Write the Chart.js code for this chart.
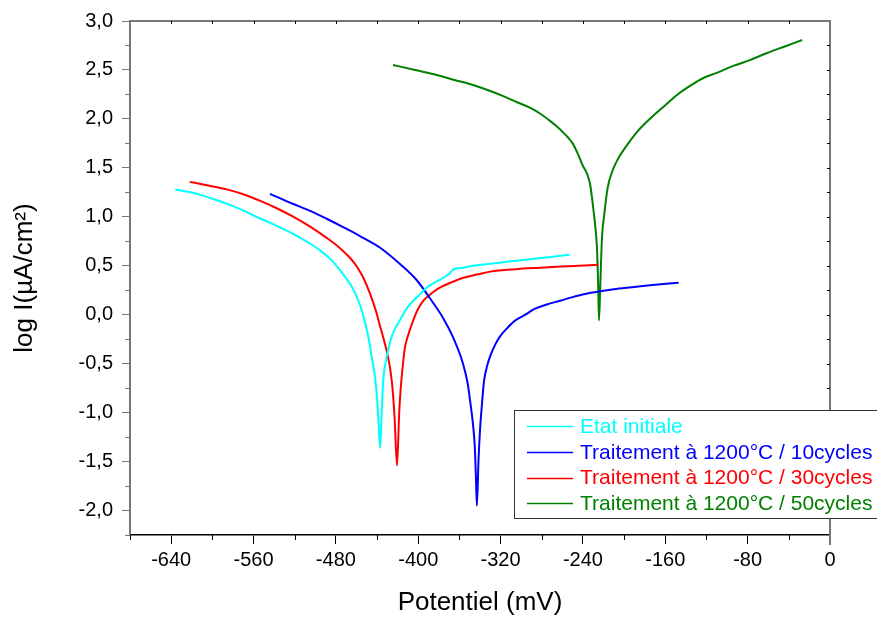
<!DOCTYPE html>
<html>
<head>
<meta charset="utf-8">
<script src="https://cdn.jsdelivr.net/npm/chart.js@4/dist/chart.umd.min.js"></script>
<style>
  html, body { margin: 0; padding: 0; background: #fff; }
  canvas { display: block; }
</style>
</head>
<body>
<canvas id="tafel" width="877" height="618"></canvas>
<script>
// Tafel polarisation curves: log of current density vs potential
const potentialTicks = [-640, -560, -480, -400, -320, -240, -160, -80, 0];
const currentTicks = [-2.0, -1.5, -1.0, -0.5, 0.0, 0.5, 1.0, 1.5, 2.0, 2.5, 3.0];

const seriesLabels = [
  'Etat initiale',
  'Traitement à 1200°C / 10cycles',
  'Traitement à 1200°C / 30cycles',
  'Traitement à 1200°C / 50cycles'
];
const seriesColors = ['#00ffff', '#0000ff', '#ff0000', '#008000'];

// Etat initiale
const initialX = [-636, -619, -600, -586, -570, -554, -538, -522, -508, -495, -485, -476, -470, -464, -459, -454, -449, -445, -442, -440, -438.5, -437, -435.5, -434, -431, -427, -423, -418, -412, -405, -398, -392, -382, -372, -368, -366, -356, -347, -330, -310, -291, -272, -253];
const initialY = [1.28, 1.245, 1.185, 1.135, 1.065, 0.985, 0.91, 0.828, 0.745, 0.655, 0.565, 0.455, 0.372, 0.276, 0.165, 0.015, -0.2, -0.44, -0.64, -0.85, -1.1, -1.36, -1.0, -0.67, -0.45, -0.265, -0.15, -0.06, 0.05, 0.143, 0.21, 0.276, 0.34, 0.40, 0.44, 0.46, 0.48, 0.50, 0.52, 0.545, 0.566, 0.59, 0.612];

// 10 cycles
const cycles10X = [-544, -522, -505, -489, -473, -457, -437, -418, -401, -389, -376, -366, -356.5, -352, -350, -347, -345, -344, -343, -341.5, -340, -338, -336, -333, -330, -325, -320, -313, -306, -296, -287, -275, -262, -250, -238, -223, -210, -197, -175, -147];
const cycles10Y = [1.235, 1.133, 1.06, 0.98, 0.895, 0.806, 0.684, 0.52, 0.347, 0.173, -0.03, -0.235, -0.5, -0.7, -0.85, -1.1, -1.36, -1.65, -1.95, -1.5, -1.18, -0.9, -0.67, -0.52, -0.42, -0.3, -0.214, -0.13, -0.06, 0.0, 0.06, 0.105, 0.143, 0.18, 0.212, 0.24, 0.26, 0.276, 0.3, 0.327];

// 30 cycles
const cycles30X = [-622, -604, -586, -570, -554, -538, -522, -505, -489, -476, -468, -463, -458, -453, -447, -443, -440, -437, -433, -430, -427, -425, -423, -420.6, -418.5, -417, -415, -413, -409.5, -406, -401, -395, -387, -379, -368, -356, -343, -330, -306, -282, -254, -225];
const cycles30Y = [1.357, 1.32, 1.28, 1.23, 1.165, 1.09, 1.005, 0.90, 0.785, 0.68, 0.6, 0.54, 0.465, 0.37, 0.22, 0.1, 0.0, -0.12, -0.27, -0.4, -0.57, -0.75, -1.05, -1.54, -1.0, -0.75, -0.52, -0.34, -0.2, -0.09, 0.04, 0.143, 0.22, 0.276, 0.33, 0.378, 0.41, 0.44, 0.465, 0.48, 0.495, 0.51];

// 50 cycles
const cycles50X = [-424.5, -403, -382, -366, -350, -334, -318, -304, -291, -281, -272, -265, -259, -255, -250, -245, -240, -236, -233, -231.5, -230, -228, -226.4, -225.2, -224.4, -223, -221.5, -219, -216, -212, -207, -197, -188, -180, -172, -160, -148, -136, -123, -110, -94, -78, -61, -44, -27];
const cycles50Y = [2.551, 2.50, 2.449, 2.40, 2.357, 2.30, 2.235, 2.17, 2.112, 2.05, 1.98, 1.92, 1.86, 1.815, 1.75, 1.645, 1.52, 1.44, 1.33, 1.22, 1.09, 0.9, 0.684, 0.3, -0.06, 0.35, 0.786, 1.05, 1.296, 1.45, 1.571, 1.735, 1.86, 1.95, 2.03, 2.14, 2.25, 2.337, 2.418, 2.47, 2.541, 2.6, 2.673, 2.74, 2.806];

const seriesX = [initialX, cycles10X, cycles30X, cycles50X];
const seriesY = [initialY, cycles10Y, cycles30Y, cycles50Y];

const FONT = 'Liberation Sans, Arial, Helvetica, sans-serif';
const AXIS_GREY = '#777777';

const toPoints = (xs, ys) => xs.map((x, i) => ({ x: x, y: ys[i] }));

const datasets = seriesLabels.map((label, i) => ({
  label: label,
  data: toPoints(seriesX[i], seriesY[i]),
  borderColor: seriesColors[i],
  backgroundColor: seriesColors[i],
  borderWidth: 2,
  pointRadius: 0,
  cubicInterpolationMode: 'monotone',
  fill: false
}));

// Minor ticks plus the top and right edges of the frame
const framePlugin = {
  id: 'frame',
  afterDraw(chart) {
    const { ctx, chartArea, scales } = chart;
    const { left, right, top, bottom } = chartArea;
    const x = scales.x, y = scales.y;
    ctx.save();
    ctx.lineCap = 'butt';

    // top edge
    ctx.strokeStyle = AXIS_GREY;
    ctx.lineWidth = 2;
    ctx.beginPath();
    ctx.moveTo(left, top);
    ctx.lineTo(right + 1, top);
    ctx.stroke();
    // right edge, running a little below the bottom axis
    ctx.beginPath();
    ctx.moveTo(right, top);
    ctx.lineTo(right, bottom + 10);
    ctx.stroke();

    // bottom minor ticks
    ctx.strokeStyle = '#000';
    ctx.lineWidth = 1;
    for (let v = -680; v < 0; v += 80) {
      const px = Math.round(x.getPixelForValue(v)) + 0.5;
      ctx.beginPath();
      ctx.moveTo(px, bottom);
      ctx.lineTo(px, bottom + 5);
      ctx.stroke();
    }
    // top inward ticks
    for (let v = -640; v < 0; v += 40) {
      const px = Math.round(x.getPixelForValue(v)) + 0.5;
      ctx.beginPath();
      ctx.moveTo(px, top);
      ctx.lineTo(px, top + 3);
      ctx.stroke();
    }
    // left minor ticks
    ctx.strokeStyle = AXIS_GREY;
    for (let v = -2.25; v < 3; v += 0.5) {
      const py = Math.round(y.getPixelForValue(v)) + 0.5;
      ctx.beginPath();
      ctx.moveTo(left - 5, py);
      ctx.lineTo(left, py);
      ctx.stroke();
    }
    // right inward ticks
    ctx.strokeStyle = '#000';
    for (let v = -2.0; v < 3; v += 0.25) {
      const py = Math.round(y.getPixelForValue(v)) + 0.5;
      ctx.beginPath();
      ctx.moveTo(right - 3, py);
      ctx.lineTo(right, py);
      ctx.stroke();
    }
    ctx.restore();
  }
};

// Boxed legend sitting over the lower right corner
const boxLegendPlugin = {
  id: 'boxLegend',
  afterDraw(chart) {
    const { ctx } = chart;
    const boxLeft = 514.5, boxTop = 410.5, boxRight = 890, boxBottom = 518.5;
    ctx.save();
    ctx.fillStyle = '#fff';
    ctx.fillRect(boxLeft, boxTop, boxRight - boxLeft, boxBottom - boxTop);
    ctx.strokeStyle = '#333';
    ctx.lineWidth = 1;
    ctx.strokeRect(boxLeft, boxTop, boxRight - boxLeft, boxBottom - boxTop);
    ctx.font = '21px ' + FONT;
    ctx.textBaseline = 'middle';
    ctx.textAlign = 'left';
    chart.data.datasets.forEach((ds, i) => {
      const rowY = 426 + i * 25.8;
      ctx.strokeStyle = ds.borderColor;
      ctx.lineWidth = 1.5;
      ctx.beginPath();
      ctx.moveTo(527, Math.round(rowY) + 0.5);
      ctx.lineTo(573, Math.round(rowY) + 0.5);
      ctx.stroke();
      ctx.fillStyle = ds.borderColor;
      ctx.fillText(ds.label, 580, rowY + 1);
    });
    ctx.restore();
  }
};

new Chart(document.getElementById('tafel'), {
  type: 'line',
  data: { datasets: datasets },
  options: {
    responsive: false,
    animation: false,
    events: [],
    layout: { padding: { top: 20, right: 47, left: 0, bottom: 0 } },
    plugins: {
      legend: { display: false },
      tooltip: { enabled: false }
    },
    scales: {
      x: {
        type: 'linear',
        min: -680,
        max: 0,
        afterBuildTicks: (scale) => { scale.ticks = potentialTicks.map(v => ({ value: v })); },
        afterFit: (scale) => { scale.height = 83; },
        grid: { drawOnChartArea: false, drawTicks: true, tickLength: 9, color: '#000', lineWidth: 1 },
        border: { display: true, color: '#000', width: 1.5 },
        ticks: {
          color: '#000',
          font: { family: FONT, size: 20 },
          padding: 4,
          maxRotation: 0,
          autoSkip: false,
          callback: (v) => String(v)
        },
        title: {
          display: true,
          text: 'Potentiel (mV)',
          color: '#000',
          font: { family: FONT, size: 26 },
          padding: { top: 0, bottom: 0 }
        }
      },
      y: {
        type: 'linear',
        min: -2.25,
        max: 3.0,
        afterBuildTicks: (scale) => { scale.ticks = currentTicks.map(v => ({ value: v })); },
        afterFit: (scale) => { scale.width = 130; },
        grid: { drawOnChartArea: false, drawTicks: true, tickLength: 8, color: AXIS_GREY, lineWidth: 1 },
        border: { display: true, color: AXIS_GREY, width: 2 },
        ticks: {
          color: '#000',
          font: { family: FONT, size: 20 },
          padding: 9,
          autoSkip: false,
          callback: (v) => v.toFixed(1).replace('.', ',')
        },
        title: {
          display: true,
          text: 'log I(µA/cm²)',
          color: '#000',
          font: { family: FONT, size: 26 },
          padding: { top: 9, bottom: 0 }
        }
      }
    }
  },
  plugins: [framePlugin, boxLegendPlugin]
});
</script>
</body>
</html>
